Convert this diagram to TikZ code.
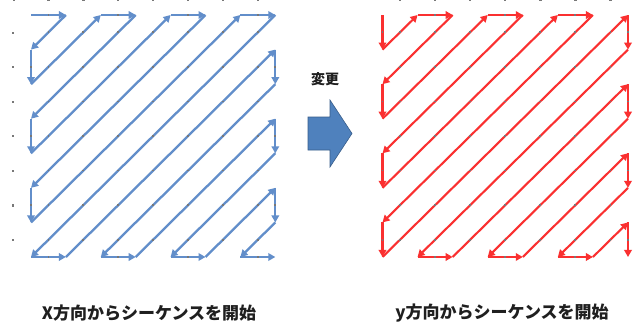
\documentclass[tikz,border=0pt]{standalone}
\usepackage{fontspec}
\newfontfamily\jpfont{Noto Sans CJK JP}
\usetikzlibrary{arrows.meta,calc}
\definecolor{lineblue}{RGB}{98,142,202}
\definecolor{linered}{RGB}{250,48,48}
\definecolor{tickgray}{RGB}{120,120,120}
\definecolor{blockblue}{RGB}{79,129,189}
\definecolor{blockedge}{RGB}{56,93,138}
\begin{document}
\begin{tikzpicture}[x=1pt,y=-1pt,
  blueseg/.style={draw=lineblue, line width=2.3pt, line join=round,
    -{Triangle[length=7pt,width=7.5pt]}},
  redseg/.style={draw=linered, line width=2.1pt, line join=round,
    -{Triangle[length=7pt,width=7.5pt]}},
  datamark/.style={fill=tickgray},
  caption/.style={font=\jpfont\bfseries\fontsize{17}{17}\selectfont, text=black!88, inner sep=0pt},
  changelabel/.style={font=\jpfont\bfseries\fontsize{14}{14}\selectfont, text=black!88, inner sep=0pt}
]
\useasboundingbox (0,0) rectangle (640,325);
\fill[white] (0,0) rectangle (640,325);

% grid points
\foreach \i in {0,...,7}{
  \foreach \j in {0,...,7}{
    \coordinate (L-\i-\j) at ({31+34.9*\i},{15+34.57*\j});
    \coordinate (R-\i-\j) at ({382.5+35.07*\i},{15+34.57*\j});
  }
}

% axis ticks
\foreach \j in {0,...,6}
  \fill[tickgray] ({12},{31.5+34.57*\j}) rectangle +(2.2,2.2);
\foreach \i in {0,...,7}
  \fill[tickgray] ({12.5+34.9*\i},0) rectangle +(2.2,1.2);
\foreach \i in {1,...,7}
  \fill[tickgray] ({364+35.07*\i},0) rectangle +(2.2,1.2);

% left: start in x direction
\foreach \x/\y [remember=\x as \px (initially 0), remember=\y as \py (initially 0)] in
  {1/0,0/1,0/2,2/0,3/0,0/3,0/4,4/0,5/0,0/5,0/6,6/0,7/0,0/7,1/7,7/1,7/2,2/7,3/7,7/3,7/4,4/7,5/7,7/5,7/6,6/7,7/7}
{
  \draw[blueseg] (L-\px-\py) -- (L-\x-\y);
}
% right: start in y direction
\foreach \x/\y [remember=\x as \px (initially 0), remember=\y as \py (initially 0)] in
  {0/1,1/0,2/0,0/2,0/3,3/0,4/0,0/4,0/5,5/0,6/0,0/6,0/7,7/0,7/1,1/7,2/7,7/2,7/3,3/7,4/7,7/4,7/5,5/7,6/7,7/6,7/7}
{
  \draw[redseg] (R-\px-\py) -- (R-\x-\y);
}

% small data markers at half steps
\foreach \side/\lst in {L/{1/0,0/1,0/2,2/0,3/0,0/3,0/4,4/0,5/0,0/5,0/6,6/0,7/0,0/7,1/7,7/1,7/2,2/7,3/7,7/3,7/4,4/7,5/7,7/5,7/6,6/7,7/7},
                        R/{0/1,1/0,2/0,0/2,0/3,3/0,4/0,0/4,0/5,5/0,6/0,0/6,0/7,7/0,7/1,1/7,2/7,7/2,7/3,3/7,4/7,7/4,7/5,5/7,6/7,7/6,7/7}}
{
  \foreach \x/\y [remember=\x as \px (initially 0), remember=\y as \py (initially 0)] in \lst
  {
    \pgfmathtruncatemacro\nsteps{max(abs(\x-\px),abs(\y-\py))}
    \foreach \k in {1,...,\nsteps}{
      \fill[tickgray] ($(\side-\px-\py)!{(\k-0.5)/\nsteps}!(\side-\x-\y)$) +(-0.9,-0.9) rectangle +(0.9,0.9);
    }
  }
}

% change arrow
\node[changelabel] (chg) at (325,79) {変更};
\draw[blockedge, fill=blockblue, line width=0.6pt, line join=miter]
  (308,117) -- (330,117) -- (330,100) -- (352,133.5) -- (330,167) -- (330,150) -- (308,150) -- cycle;

% captions
\node[caption] (capL) at (149,313) {X方向からシーケンスを開始};
\node[caption] (capR) at (502,313) {y方向からシーケンスを開始};
\end{tikzpicture}
\end{document}
